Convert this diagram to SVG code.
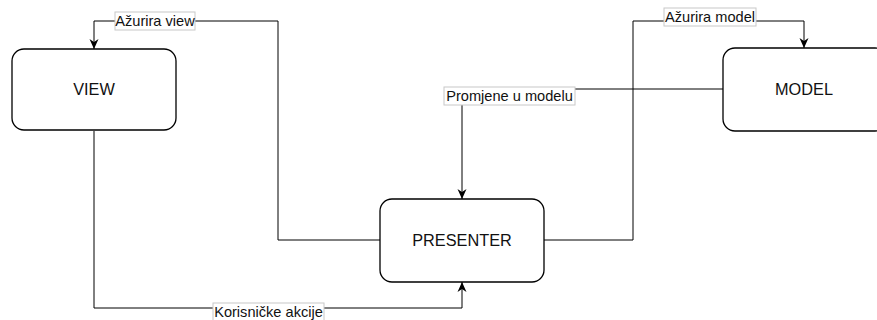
<svg xmlns="http://www.w3.org/2000/svg" width="877" height="320" viewBox="0 0 877 320">
<defs>
<style>
.node{fill:#fff;stroke:#000;stroke-width:1.3}
.ntext{font-family:"Liberation Sans",Arial,sans-serif;font-size:16.3px;fill:#111;text-anchor:middle}
.edge{fill:none;stroke:#000;stroke-width:1}
.lbox{fill:#fff;stroke:#c8c8c8;stroke-width:1}
.ltext{font-family:"Liberation Sans",Arial,sans-serif;font-size:14.6px;fill:#111;text-anchor:middle}
</style>
<marker id="arr" markerWidth="10" markerHeight="10" viewBox="0 0 10 10" refX="10" refY="5" orient="auto" markerUnits="userSpaceOnUse">
<path d="M0,0.5 L10,5 L0,9.5 L3,5 Z" fill="#000"/>
</marker>
</defs>
<rect width="877" height="320" fill="#fff"/>
<g id="connectors">
<path class="edge" d="M380,240 H278 V21 H94 V49" marker-end="url(#arr)"/>
<path class="edge" d="M544,240 H633 V21 H804 V48" marker-end="url(#arr)"/>
<path class="edge" d="M723,89 H462 V199" marker-end="url(#arr)"/>
<path class="edge" d="M94,131 V308 H462 V282" marker-end="url(#arr)"/>
<g id="label-azurira-view"><rect class="lbox" x="115" y="12" width="80" height="18"/><text class="ltext" x="155" y="26">Ažurira view</text></g>
<g id="label-azurira-model"><rect class="lbox" x="664" y="8" width="92" height="18"/><text class="ltext" x="710" y="22">Ažurira model</text></g>
<g id="label-promjene"><rect class="lbox" x="444" y="87" width="131" height="18"/><text class="ltext" x="509.5" y="101">Promjene u modelu</text></g>
<g id="label-korisnicke"><rect class="lbox" x="213" y="303" width="111" height="20"/><text class="ltext" x="268.5" y="317">Korisničke akcije</text></g>
</g>
<g id="view"><rect class="node" x="12" y="49" width="164" height="81" rx="12"/><text class="ntext" x="94" y="95">VIEW</text></g>
<g id="model"><rect class="node" x="723" y="48" width="164" height="83" rx="12"/><text class="ntext" x="804" y="95">MODEL</text></g>
<g id="presenter"><rect class="node" x="380" y="199" width="164" height="83" rx="12"/><text class="ntext" x="462" y="246">PRESENTER</text></g>
</svg>
